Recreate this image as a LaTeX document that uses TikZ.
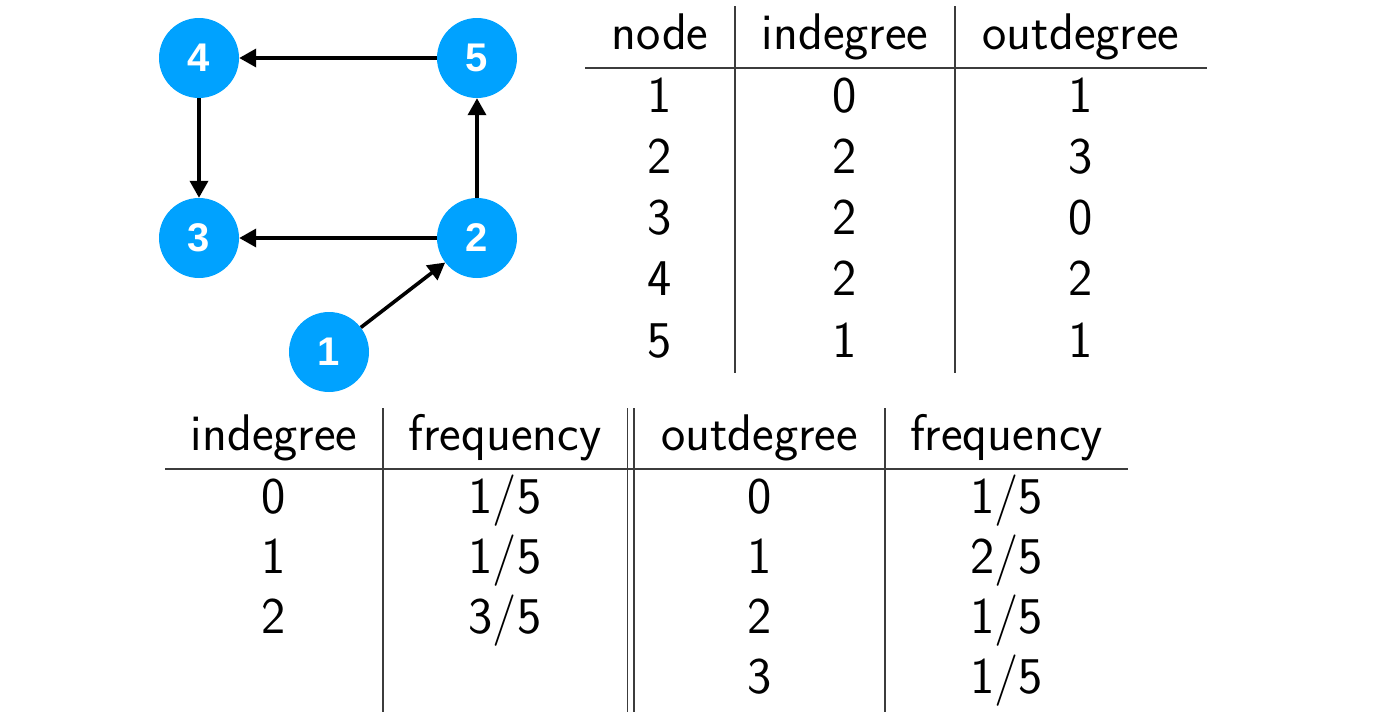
\documentclass[tikz,border=0pt]{standalone}
\usepackage{fontspec}
\usetikzlibrary{arrows.meta}
\newfontfamily\nodefont{Liberation Sans}
\definecolor{nodeblue}{RGB}{0,162,255}
\definecolor{rulegray}{RGB}{60,60,60}
\tikzset{
  vert/.style={circle, fill=nodeblue, minimum size=80pt, inner sep=0pt,
    text=white, font=\nodefont\bfseries\fontsize{40}{40}\selectfont},
  edge/.style={line width=3.6pt, -{Triangle[length=17pt,width=18pt]}},
  cell/.style={anchor=base, inner sep=0pt, font=\sffamily\fontsize{51.5}{60}\selectfont},
  rule/.style={draw=rulegray, line width=1.5pt}
}
\begin{document}
\begin{tikzpicture}[x=1pt,y=-1pt]
\useasboundingbox (0,0) rectangle (1384,712);
% graph
\node[vert] (n4) at (199,58) {4};
\node[vert] (n5) at (477,58) {5};
\node[vert] (n3) at (199,238) {3};
\node[vert] (n2) at (477,238) {2};
\node[vert] (n1) at (329,352) {1};
\draw[edge] (n5) -- (n4);
\draw[edge] (n4) -- (n3);
\draw[edge] (n2) -- (n3);
\draw[edge] (n2) -- (n5);
\draw[edge] (n1) -- (n2);
% top table
\coordinate (tl) at (585,68);
\coordinate (tr) at (1207,68);
\coordinate (ta1) at (735,6);
\coordinate (tb1) at (735,373);
\coordinate (ta2) at (955,6);
\coordinate (tb2) at (955,373);
\draw[rule] (tl) -- (tr);
\draw[rule] (ta1) -- (tb1);
\draw[rule] (ta2) -- (tb2);
\node[cell] (th1) at (660,49) {node};
\node[cell] (th2) at (845,49) {indegree};
\node[cell] (th3) at (1081,49) {outdegree};
\foreach \r/\a/\b/\c in {0/1/0/1, 1/2/2/3, 2/3/2/0, 3/4/2/2, 4/5/1/1}{
  \node[cell] (tra\r) at (660,112+61.25*\r) {\a};
  \node[cell] (trb\r) at (845,112+61.25*\r) {\b};
  \node[cell] (trc\r) at (1081,112+61.25*\r) {\c};
}
% bottom table
\coordinate (bl) at (165,469);
\coordinate (br) at (1128,469);
\coordinate (ba1) at (383,408);
\coordinate (bb1) at (383,712);
\coordinate (ba2) at (627.5,408);
\coordinate (bb2) at (627.5,712);
\coordinate (ba3) at (634,408);
\coordinate (bb3) at (634,712);
\coordinate (ba4) at (885,408);
\coordinate (bb4) at (885,712);
\draw[rule] (bl) -- (br);
\draw[rule] (ba1) -- (bb1);
\draw[rule] (ba2) -- (bb2);
\draw[rule] (ba3) -- (bb3);
\draw[rule] (ba4) -- (bb4);
\node[cell] (bh1) at (274,450) {indegree};
\node[cell] (bh2) at (505,450) {frequency};
\node[cell] (bh3) at (759.5,450) {outdegree};
\node[cell] (bh4) at (1006.5,450) {frequency};
\node[cell] (bi0) at (274,513) {0};
\node[cell] (bf0) at (505,513) {1/5};
\node[cell] (bi1) at (274,573) {1};
\node[cell] (bf1) at (505,573) {1/5};
\node[cell] (bi2) at (274,633) {2};
\node[cell] (bf2) at (505,633) {3/5};
\node[cell] (bo0) at (759.5,513) {0};
\node[cell] (bg0) at (1006.5,513) {1/5};
\node[cell] (bo1) at (759.5,573) {1};
\node[cell] (bg1) at (1006.5,573) {2/5};
\node[cell] (bo2) at (759.5,633) {2};
\node[cell] (bg2) at (1006.5,633) {1/5};
\node[cell] (bo3) at (759.5,693) {3};
\node[cell] (bg3) at (1006.5,693) {1/5};
\end{tikzpicture}
\end{document}
